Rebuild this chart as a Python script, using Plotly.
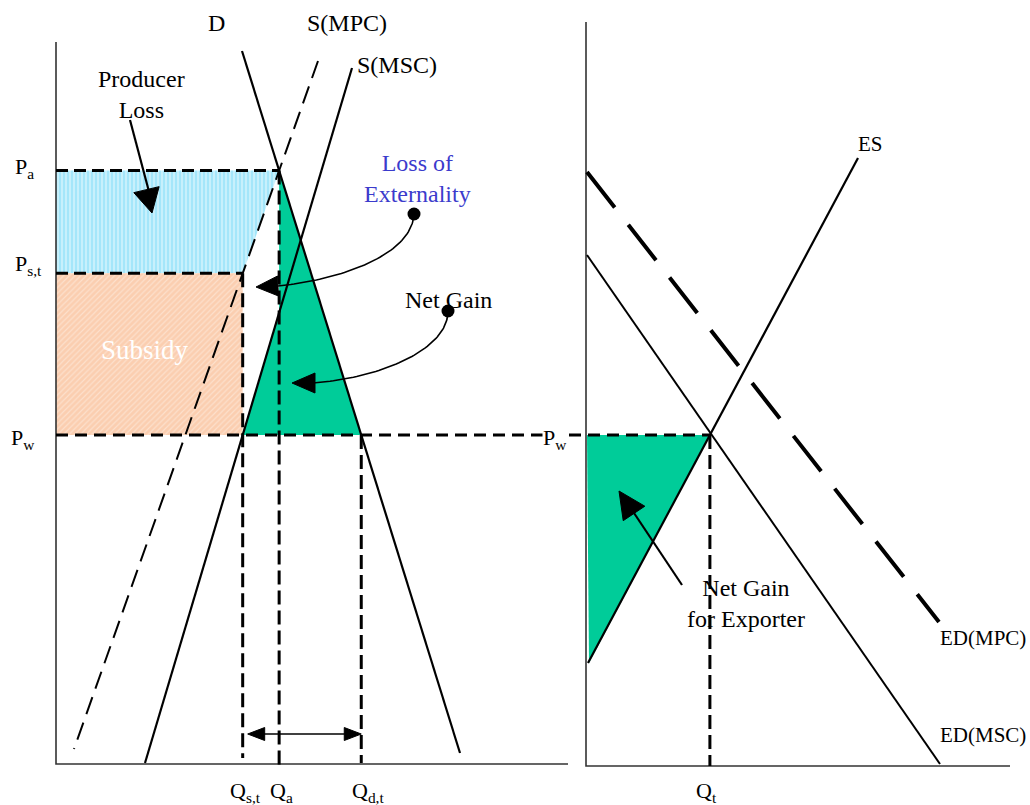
import numpy as np
import plotly.graph_objects as go

# ---------------- DATA (diagram units: x = quantity axis, y = price axis) ----------------
# Left panel: domestic market
D_q, D_p = [242, 460], [754, 52]            # demand D
MPC_q, MPC_p = [318, 74], [744, 56]         # S(MPC) (dashed)
MSC_q, MSC_p = [352, 145], [737, 42]        # S(MSC)
P_w = 370                                   # world price
left_axis_q = [56, 56, 568]
left_axis_p = [763, 41, 41]

# Right panel: world market
ES_q, ES_p = [588, 858], [142, 647]
EDMSC_q, EDMSC_p = [587, 940], [550, 41]
EDMPC_q, EDMPC_p = [587, 939], [633, 183]
right_axis_q = [586, 586, 1010]
right_axis_p = [783, 39, 39]
right_tri_bottom = [589, 142]

# Labels
curve_labels = ["D", "S(MPC)", "S(MSC)", "ES", "ED(MPC)", "ED(MSC)"]
price_labels = ["P<sub>a</sub>", "P<sub>s,t</sub>", "P<sub>w</sub>", "P<sub>w</sub>"]
qty_labels = ["Q<sub>s,t</sub>", "Q<sub>a</sub>", "Q<sub>d,t</sub>", "Q<sub>t</sub>"]
area_labels = ["Producer<br>Loss", "Loss of<br>Externality", "Net Gain", "Subsidy",
               "Net Gain<br>for Exporter"]

# ---------------- helpers ----------------
def q_at(lq, lp, p):
    return lq[0] + (p - lp[0]) * (lq[1] - lq[0]) / (lp[1] - lp[0])

def p_at(lq, lp, q):
    return lp[0] + (q - lq[0]) * (lp[1] - lp[0]) / (lq[1] - lq[0])

def intersect(aq, ap, bq, bp):
    A = np.array([[ap[1] - ap[0], -(aq[1] - aq[0])], [bp[1] - bp[0], -(bq[1] - bq[0])]], float)
    b = np.array([(ap[1] - ap[0]) * aq[0] - (aq[1] - aq[0]) * ap[0],
                  (bp[1] - bp[0]) * bq[0] - (bq[1] - bq[0]) * bp[0]], float)
    q, p = np.linalg.solve(A, b)
    return q, p

Q_a, P_a = intersect(D_q, D_p, MPC_q, MPC_p)
Q_st = q_at(MSC_q, MSC_p, P_w)
P_st = p_at(MPC_q, MPC_p, Q_st)
Q_dt = q_at(D_q, D_p, P_w)
P_msc_at_Qa = p_at(MSC_q, MSC_p, Q_a)
Q_t = q_at(ES_q, ES_p, P_w)
x0L, y0L = left_axis_q[1], left_axis_p[1]
x0R, y0R = right_axis_q[1], right_axis_p[1]

def bezier(p0, p1, p2, p3, n=60):
    t = np.linspace(0, 1, n)[:, None]
    pts = ((1 - t) ** 3) * np.array(p0) + 3 * ((1 - t) ** 2) * t * np.array(p1) \
        + 3 * (1 - t) * t ** 2 * np.array(p2) + t ** 3 * np.array(p3)
    return pts[:, 0], pts[:, 1]

def head(tip, frm, length, half):
    tip = np.array(tip, float); frm = np.array(frm, float)
    u = tip - frm; u /= np.linalg.norm(u)
    n = np.array([-u[1], u[0]])
    base = tip - length * u
    pts = [tip, base + half * n, base - half * n, tip]
    return [p[0] for p in pts], [p[1] for p in pts]

fig = go.Figure()
SERIF = "Liberation Serif, Times New Roman, serif"

def poly(xs, ys, **kw):
    fig.add_trace(go.Scatter(x=xs, y=ys, mode="lines", fill="toself",
                             line=dict(width=0), hoverinfo="skip", **kw))

def line(xs, ys, width=2, dash="solid", color="black"):
    fig.add_trace(go.Scatter(x=xs, y=ys, mode="lines", hoverinfo="skip",
                             line=dict(color=color, width=width, dash=dash)))

# ---------------- fills ----------------
poly([x0L, Q_a, Q_st, x0L], [P_a, P_a, P_st, P_st],
     fillcolor="#a9e9fb",
     fillpattern=dict(shape="|", bgcolor="#a4e6fa", fgcolor="#d6f5fd", size=4,
                      solidity=0.35, fillmode="replace"))
poly([x0L, Q_st, Q_st, x0L], [P_st, P_st, P_w, P_w],
     fillcolor="#fbd0b4",
     fillpattern=dict(shape="/", bgcolor="#fbceb0", fgcolor="#fde0cc", size=4,
                      solidity=0.3, fillmode="replace"))
poly([Q_a, Q_dt, Q_st, Q_a, Q_a], [P_a, P_w, P_w, P_msc_at_Qa, P_a], fillcolor="#00cc99")
poly([x0R + 1, Q_t, right_tri_bottom[0]], [P_w, P_w, right_tri_bottom[1]], fillcolor="#00cc99")

# ---------------- axes ----------------
line(left_axis_q, left_axis_p, width=1.6, color="#333333")
line(right_axis_q, right_axis_p, width=1.6, color="#333333")

# ---------------- reference dashed lines ----------------
line([x0L, Q_a], [P_a, P_a], width=3, dash="12px,6px")
line([x0L, Q_st], [P_st, P_st], width=3, dash="12px,6px")
line([x0L, Q_t], [P_w, P_w], width=3, dash="12px,7px")
line([Q_st, Q_st], [P_st, y0L + 6], width=3, dash="14px,6px")
line([Q_a, Q_a], [P_a, y0L - 2], width=3, dash="14px,6px")
line([Q_dt, Q_dt], [P_w, y0L + 1], width=3, dash="14px,6px")
line([Q_t, Q_t], [P_w, y0R], width=3, dash="14px,6px")

# ---------------- curves ----------------
line(MPC_q, MPC_p, width=2, dash="18px,9px")
line(D_q, D_p, width=2.2)
line(MSC_q, MSC_p, width=2.2)
line(ES_q, ES_p, width=2.2)
line(EDMSC_q, EDMSC_p, width=2)
line(EDMPC_q, EDMPC_p, width=4, dash="45px,22px")

# ---------------- arrows ----------------
def filled(xs, ys):
    fig.add_trace(go.Scatter(x=xs, y=ys, mode="lines", fill="toself", fillcolor="black",
                             line=dict(color="black", width=1), hoverinfo="skip"))

# Producer loss (straight)
pl_tail, pl_tip = (130, 685), (152, 592)
hx, hy = head(pl_tip, pl_tail, 24, 13)
line([pl_tail[0], pl_tip[0]], [pl_tail[1], pl_tip[1] + 10], width=2.2)
filled(hx, hy)

# Loss of externality (curved)
le_pts = [(414, 591), (412, 550), (340, 525), (278, 519)]
le_tip = (256, 518)
bx, by = bezier(*le_pts)
line(list(bx), list(by), width=1.6)
hx, hy = head(le_tip, le_pts[3], 22, 10)
filled(hx, hy)

# Net gain (curved)
ng_pts = [(448, 494), (448, 455), (380, 427), (313, 422)]
ng_tip = (292, 422)
bx, by = bezier(*ng_pts)
line(list(bx), list(by), width=1.6)
hx, hy = head(ng_tip, ng_pts[3], 23, 10)
filled(hx, hy)

# Dots
fig.add_trace(go.Scatter(x=[le_pts[0][0], ng_pts[0][0]], y=[le_pts[0][1], ng_pts[0][1]],
                         mode="markers", marker=dict(color="black", size=13), hoverinfo="skip"))

# Net gain for exporter (straight)
ex_tail, ex_tip = (682, 220), (619, 314)
hx, hy = head(ex_tip, ex_tail, 27, 13)
line([ex_tail[0], 634], [ex_tail[1], 292], width=2.2)
filled(hx, hy)

# Double arrow between Q_s,t and Q_d,t
da_y = 71
line([Q_st + 18, Q_dt - 14], [da_y, da_y], width=1.6)
hx, hy = head((Q_st + 5, da_y), (Q_dt, da_y), 17, 6.5)
filled(hx, hy)
hx, hy = head((Q_dt, da_y), (Q_st, da_y), 17, 6.5)
filled(hx, hy)

# ---------------- text ----------------
def label(text, x, y, size=24, color="black", xanchor="center", bg=None):
    fig.add_annotation(x=x, y=y, text=text, showarrow=False, xanchor=xanchor, yanchor="middle",
                       font=dict(family=SERIF, size=size, color=color),
                       bgcolor=bg, borderpad=0)

label(curve_labels[0], 216, 782)
label(curve_labels[1], 347, 782)
label(curve_labels[2], 397, 740)
label(curve_labels[3], 870, 661, size=21)
label(curve_labels[4], 983, 167, size=21)
label(curve_labels[5], 983, 70, size=21)

label(price_labels[0], 14, 637, size=22, xanchor="left")
label(price_labels[1], 14, 540, size=22, xanchor="left")
label(price_labels[2], 10, 366, size=22, xanchor="left")
label(price_labels[3], 542, 366, size=22, xanchor="left", bg="white")

label(qty_labels[0], 245, 13, size=22)
label(qty_labels[1], 281, 13, size=22)
label(qty_labels[2], 368, 13, size=22)
label(qty_labels[3], 706, 13, size=22)

label(area_labels[0], 141, 711)
label(area_labels[1], 417, 627, color="#3b3bcc")
label(area_labels[2], 448, 505)
label(area_labels[3], 145, 455, size=27, color="white")
label(area_labels[4], 746, 202)

fig.update_layout(
    width=1030, height=805, showlegend=False,
    margin=dict(l=0, r=0, t=0, b=0),
    paper_bgcolor="white", plot_bgcolor="white",
    xaxis=dict(range=[0, 1030], visible=False, fixedrange=True),
    yaxis=dict(range=[0, 805], visible=False, fixedrange=True),
)
fig.write_html("out.html", config={"displayModeBar": False},
               post_script="document.body.style.margin='0px';document.body.style.overflow='hidden';")
